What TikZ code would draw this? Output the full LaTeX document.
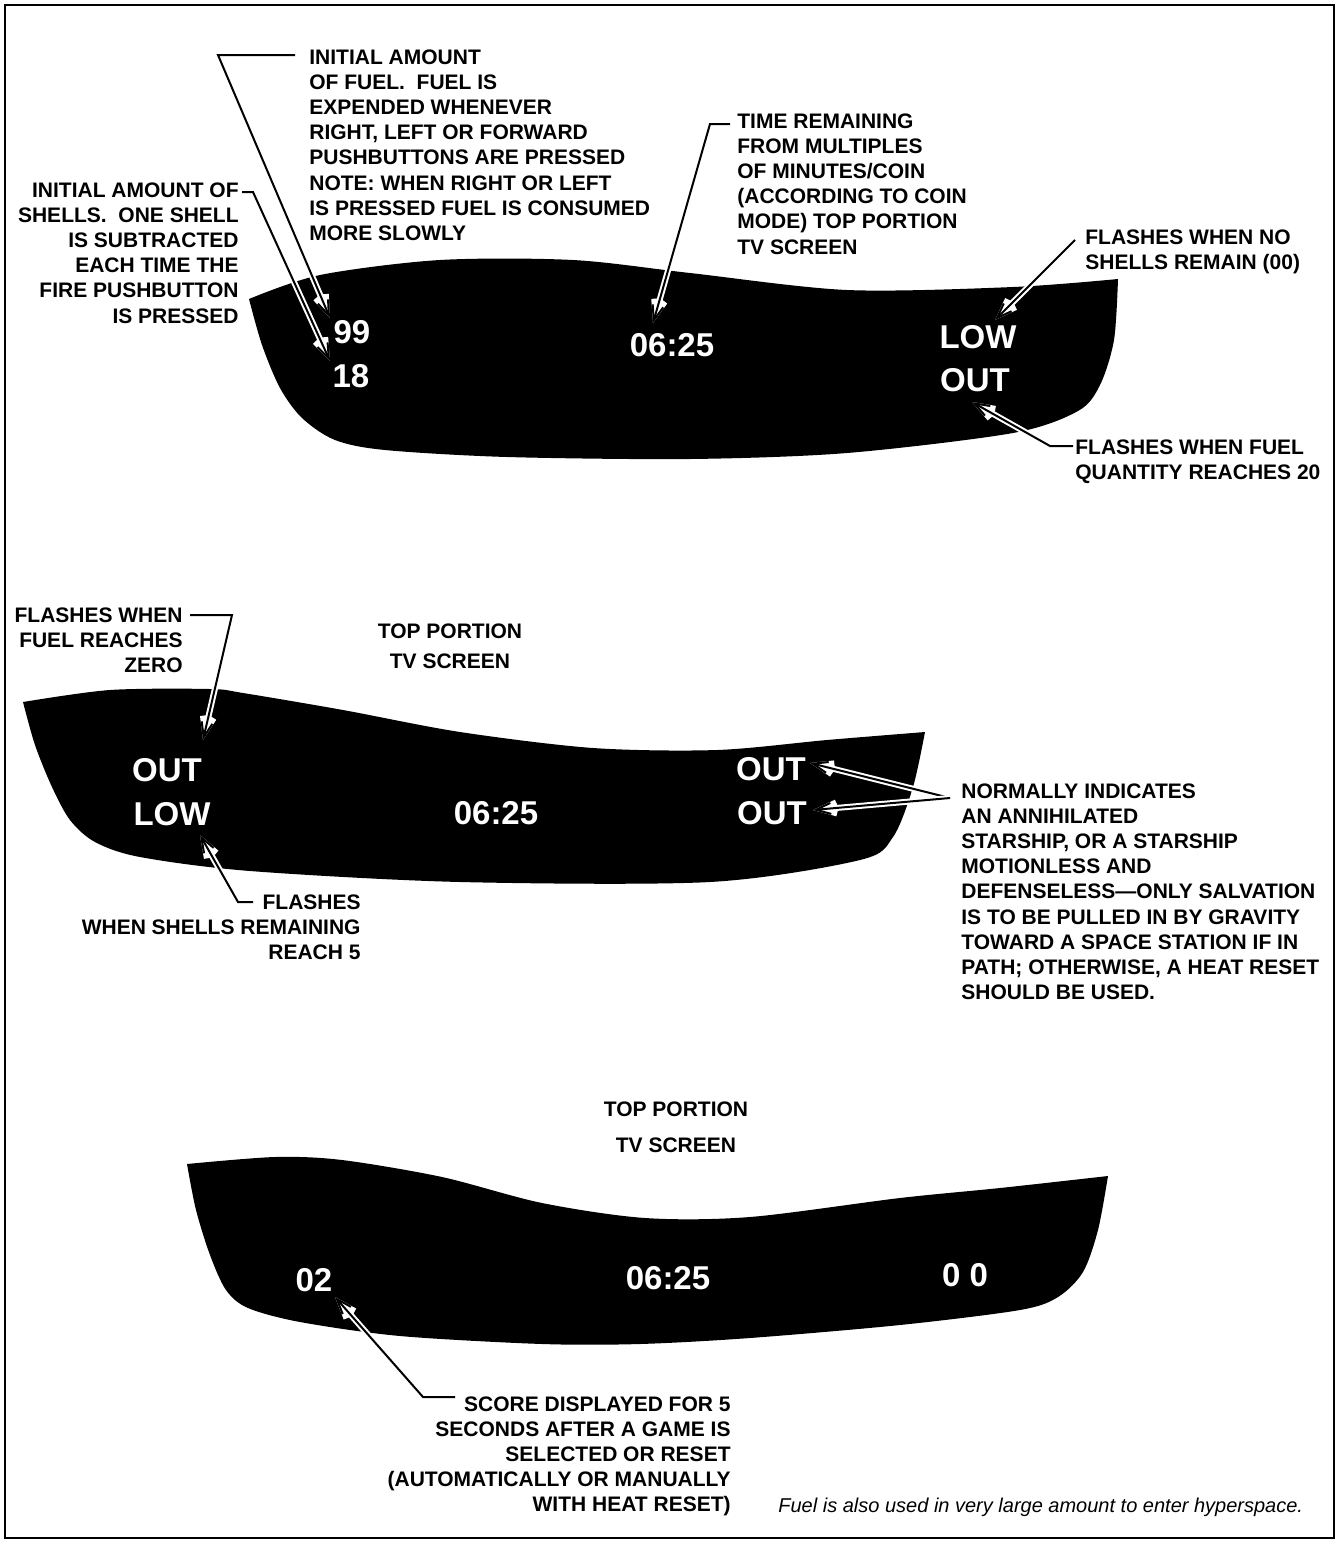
\documentclass[tikz,border=0pt]{standalone}
\usepackage{fontspec}
\setmainfont{Liberation Sans}
\usetikzlibrary{arrows.meta}
\usetikzlibrary{positioning}
\tikzset{
    screen/.style = {fill=black},
    readout/.style = {inner sep=0pt, text=white, font=\bfseries\fontsize{16.5}{18}\selectfont},
    note/.style = {inner sep=0pt, font=\bfseries\fontsize{10.5}{12.6}\selectfont},
    notel/.style = {note, align=left},
    noter/.style = {note, align=right},
    notec/.style = {note, align=center},
    leader/.style = {line width=1pt, black, -{Straight Barb[length=7.5pt,width=5.5pt]}, preaction={draw=white, line width=3pt}}, % halo shows on black
    frame/.style = {line width=1pt, black}
}

\begin{document}
\begin{tikzpicture}[x=0.5pt, y=-0.5pt]
  \useasboundingbox (0,0) rectangle (1339,1543);
  \draw[frame] (5,5) rectangle (1334,1538);

  % screens
  \fill[screen] plot[smooth, tension=0.5] coordinates {(249,299) (320,275) (440,260) (573,260) (690,273) (847,290) (1013,287) (1118,279)}
    -- plot[smooth, tension=0.5] coordinates {(1118,279) (1114,340) (1100,385) (1078,411) (1013,433) (847,453) (690,459) (507,457) (385,450) (335,440) (302,418) (280,388) (262,345) (249,299)} -- cycle;
  \fill[screen] plot[smooth, tension=0.5] coordinates {(23,702) (110,690) (210,689) (243,693) (343,710) (460,732) (593,748) (717,750) (827,740) (925,732)}
    -- plot[smooth, tension=0.5] coordinates {(925,732) (913,787) (893,837) (860,860) (710,882) (460,882) (250,871) (140,857) (95,842) (70,820) (52,787) (35,745) (23,702)} -- cycle;
  \fill[screen] plot[smooth, tension=0.5] coordinates {(187,1164) (275,1157) (342,1160) (442,1177) (542,1203) (645,1218) (750,1217) (900,1198) (1000,1188) (1108,1176)}
    -- plot[smooth, tension=0.5] coordinates {(1108,1176) (1098,1230) (1083,1272) (1058,1297) (1020,1310) (900,1325) (750,1338) (640,1344) (542,1344) (400,1336) (300,1322) (248,1308) (226,1290) (210,1255) (196,1210) (187,1164)} -- cycle;

  % readouts
  \node[readout] (fuel1) at (352,332) {99};
  \node[readout] (shell1) at (351,376) {18};
  \node[readout] (time1) at (672,345) {06:25};
  \node[readout] (low1) at (978,337) {LOW};
  \node[readout] (out1) at (975,380) {OUT};
  \node[readout] (out2a) at (167,770) {OUT};
  \node[readout] (low2) at (172,814) {LOW};
  \node[readout] (time2) at (496,813) {06:25};
  \node[readout] (out2b) at (771,769) {OUT};
  \node[readout] (out2c) at (772,813) {OUT};
  \node[readout] (score3) at (314,1280) {02};
  \node[readout] (time3) at (668,1278) {06:25};
  \node[readout] (shell3) at (965,1275) {0 0};

  % notes
  \node[notel, anchor=north west] (fuelnote) at (309,49) {INITIAL AMOUNT\\OF FUEL.\ \ FUEL IS\\EXPENDED WHENEVER\\RIGHT, LEFT OR FORWARD\\PUSHBUTTONS ARE PRESSED\\NOTE: WHEN RIGHT OR LEFT\\IS PRESSED FUEL IS CONSUMED\\MORE SLOWLY};
  \node[noter, anchor=north east] (shellnote) at (239,182) {INITIAL AMOUNT OF\\SHELLS.\ \ ONE SHELL\\IS SUBTRACTED\\EACH TIME THE\\FIRE PUSHBUTTON\\IS PRESSED};
  \node[notel, anchor=north west] (timenote) at (737,113) {TIME REMAINING\\FROM MULTIPLES\\OF MINUTES/COIN\\(ACCORDING TO COIN\\MODE) TOP PORTION\\TV SCREEN};
  \node[notel, anchor=north west] (noshellnote) at (1085,229) {FLASHES WHEN NO\\SHELLS REMAIN (00)};
  \node[notel, anchor=north west] (fuelqtynote) at (1075,439) {FLASHES WHEN FUEL\\QUANTITY REACHES 20};
  \node[notec, anchor=north] (toplabel1) at (450,623) {TOP PORTION\\[2.4pt]TV SCREEN};
  \node[noter, anchor=north east] (zeronote) at (183,607) {FLASHES WHEN\\FUEL REACHES\\ZERO};
  \node[noter, anchor=north east] (fivenote) at (361,894) {FLASHES\\WHEN SHELLS REMAINING\\REACH 5};
  \node[notel, anchor=north west] (deadnote) at (961,783) {NORMALLY INDICATES\\AN ANNIHILATED\\STARSHIP, OR A STARSHIP\\MOTIONLESS AND\\DEFENSELESS—ONLY SALVATION\\IS TO BE PULLED IN BY GRAVITY\\TOWARD A SPACE STATION IF IN\\PATH; OTHERWISE, A HEAT RESET\\SHOULD BE USED.};
  \node[notec, anchor=north] (toplabel2) at (676,1101) {TOP PORTION\\[5.4pt]TV SCREEN};
  \node[noter, anchor=north east] (scorenote) at (731,1396) {SCORE DISPLAYED FOR 5\\SECONDS AFTER A GAME IS\\SELECTED OR RESET\\(AUTOMATICALLY OR MANUALLY\\WITH HEAT RESET)};
  \node[inner sep=0pt, anchor=base west, font=\itshape\fontsize{10}{12}\selectfont] (hypernote) at (778,1512) {Fuel is also used in very large amount to enter hyperspace.};

  % leader bends and tips
  \coordinate (fuelbend) at (218,55);
  \coordinate (fueltip) at (330,318);
  \coordinate (shellbend) at (253,192);
  \coordinate (shelltip) at (330,361);
  \coordinate (timebend) at (710,124);
  \coordinate (timetip) at (653,323);
  \coordinate (lowtip) at (995,320);
  \coordinate (qtybend) at (1050,446);
  \coordinate (qtytip) at (972,402);
  \coordinate (zerobend) at (232,615);
  \coordinate (zerotip) at (203,740);
  \coordinate (fivestart) at (253,902);
  \coordinate (fivebend) at (238,902);
  \coordinate (fivetip) at (200,835);
  \coordinate (deadfork) at (950,798);
  \coordinate (deadtipa) at (810,763);
  \coordinate (deadtipb) at (813,810);
  \coordinate (scorestart) at (455,1397);
  \coordinate (scorebend) at (423,1397);
  \coordinate (scoretip) at (335,1297);

  % leaders
  \draw[leader] ([shift={(-14,6)}]fuelnote.north west) -- (fuelbend) -- (fueltip);
  \draw[leader] ([shift={(3,10)}]shellnote.north east) -- (shellbend) -- (shelltip);
  \draw[leader] ([shift={(-7,11)}]timenote.north west) -- (timebend) -- (timetip);
  \draw[leader] ([shift={(-10,11)}]noshellnote.north west) -- (lowtip);
  \draw[leader] ([shift={(-2,7)}]fuelqtynote.north west) -- (qtybend) -- (qtytip);
  \draw[leader] ([shift={(7,8)}]zeronote.north east) -- (zerobend) -- (zerotip);
  \draw[leader] (fivestart) -- (fivebend) -- (fivetip);
  \draw[leader] ([shift={(-11,15)}]deadnote.north west) -- (deadtipa);
  \draw[leader] (deadfork) -- (deadtipb);
  \draw[leader] (scorestart) -- (scorebend) -- (scoretip);
\end{tikzpicture}
\end{document}
